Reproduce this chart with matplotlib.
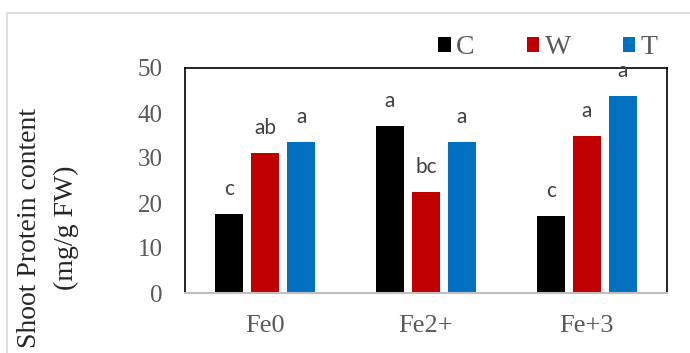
import numpy as np
import matplotlib.pyplot as plt
from matplotlib.patches import Rectangle

groups = ['Fe0', 'Fe2+', 'Fe+3']
series = ['C', 'W', 'T']
c_vals = [17.6, 37.1, 17.1]
w_vals = [31.1, 22.4, 34.9]
t_vals = [33.6, 33.6, 43.8]
c_lett = ['c', 'a', 'c']
w_lett = ['ab', 'bc', 'a']
t_lett = ['a', 'a', 'a']
colors = ['#000000', '#C00000', '#0070C0']
yticks = [0, 10, 20, 30, 40, 50]

serif = 'Liberation Serif'
gray = '#595959'

fig = plt.figure(figsize=(6.9, 3.53), dpi=100)
ax = fig.add_axes([185 / 690, 60 / 353, 482 / 690, 225 / 353])

x = np.arange(len(groups))
width = 0.174
step = 0.224
bars = []
for i, (vals, lett) in enumerate(zip([c_vals, w_vals, t_vals], [c_lett, w_lett, t_lett])):
    pos = x + (i - 1) * step
    b = ax.bar(pos, vals, width, color=colors[i], label=series[i])
    bars.append(b)
    for px, v, l in zip(pos, vals, lett):
        ax.annotate(l, (px, v), xytext=(0, 18), textcoords='offset points',
                    ha='center', va='center', fontsize=15, color='#404040',
                    family='Lato')

ax.set_xlim(-0.5, 2.5)
ax.set_ylim(0, 50)
ax.set_yticks(yticks)
ax.set_xticks(x)
ax.set_xticklabels(groups)
ax.tick_params(length=0, labelsize=18, labelcolor=gray)
ax.tick_params(axis='y', pad=16)
ax.tick_params(axis='x', pad=16, labelsize=19)
for lab in ax.get_xticklabels() + ax.get_yticklabels():
    lab.set_family(serif)

for s in ['left', 'top', 'right']:
    ax.spines[s].set_color('black')
    ax.spines[s].set_linewidth(1.2)
ax.spines['bottom'].set_color('#bfbfbf')
ax.spines['bottom'].set_linewidth(1.5)

leg = ax.legend(loc='center left', bbox_to_anchor=(438 / 690, 1 - 48 / 353),
                bbox_transform=fig.transFigure, ncol=3, frameon=False,
                handlelength=0.45, handleheight=0.45, handletextpad=0.2,
                columnspacing=1.87, borderpad=0, borderaxespad=0,
                prop={'family': serif, 'size': 20})
for t in leg.get_texts():
    t.set_color(gray)

fig.text(30 / 690, 1 - 228 / 353, 'Shoot Protein content', rotation=90,
         ha='center', va='center', family=serif, fontsize=20, color='#262626')
fig.text(66 / 690, 1 - 228 / 353, '(mg/g FW)', rotation=90,
         ha='center', va='center', family=serif, fontsize=20, color='#262626')

fig.patches.append(Rectangle((7 / 690, -0.1), 1.2, 1 - 13 / 353 + 0.1,
                             transform=fig.transFigure, fill=False,
                             edgecolor='#d9d9d9', linewidth=1.2))

fig.savefig('out.png', dpi=100)
